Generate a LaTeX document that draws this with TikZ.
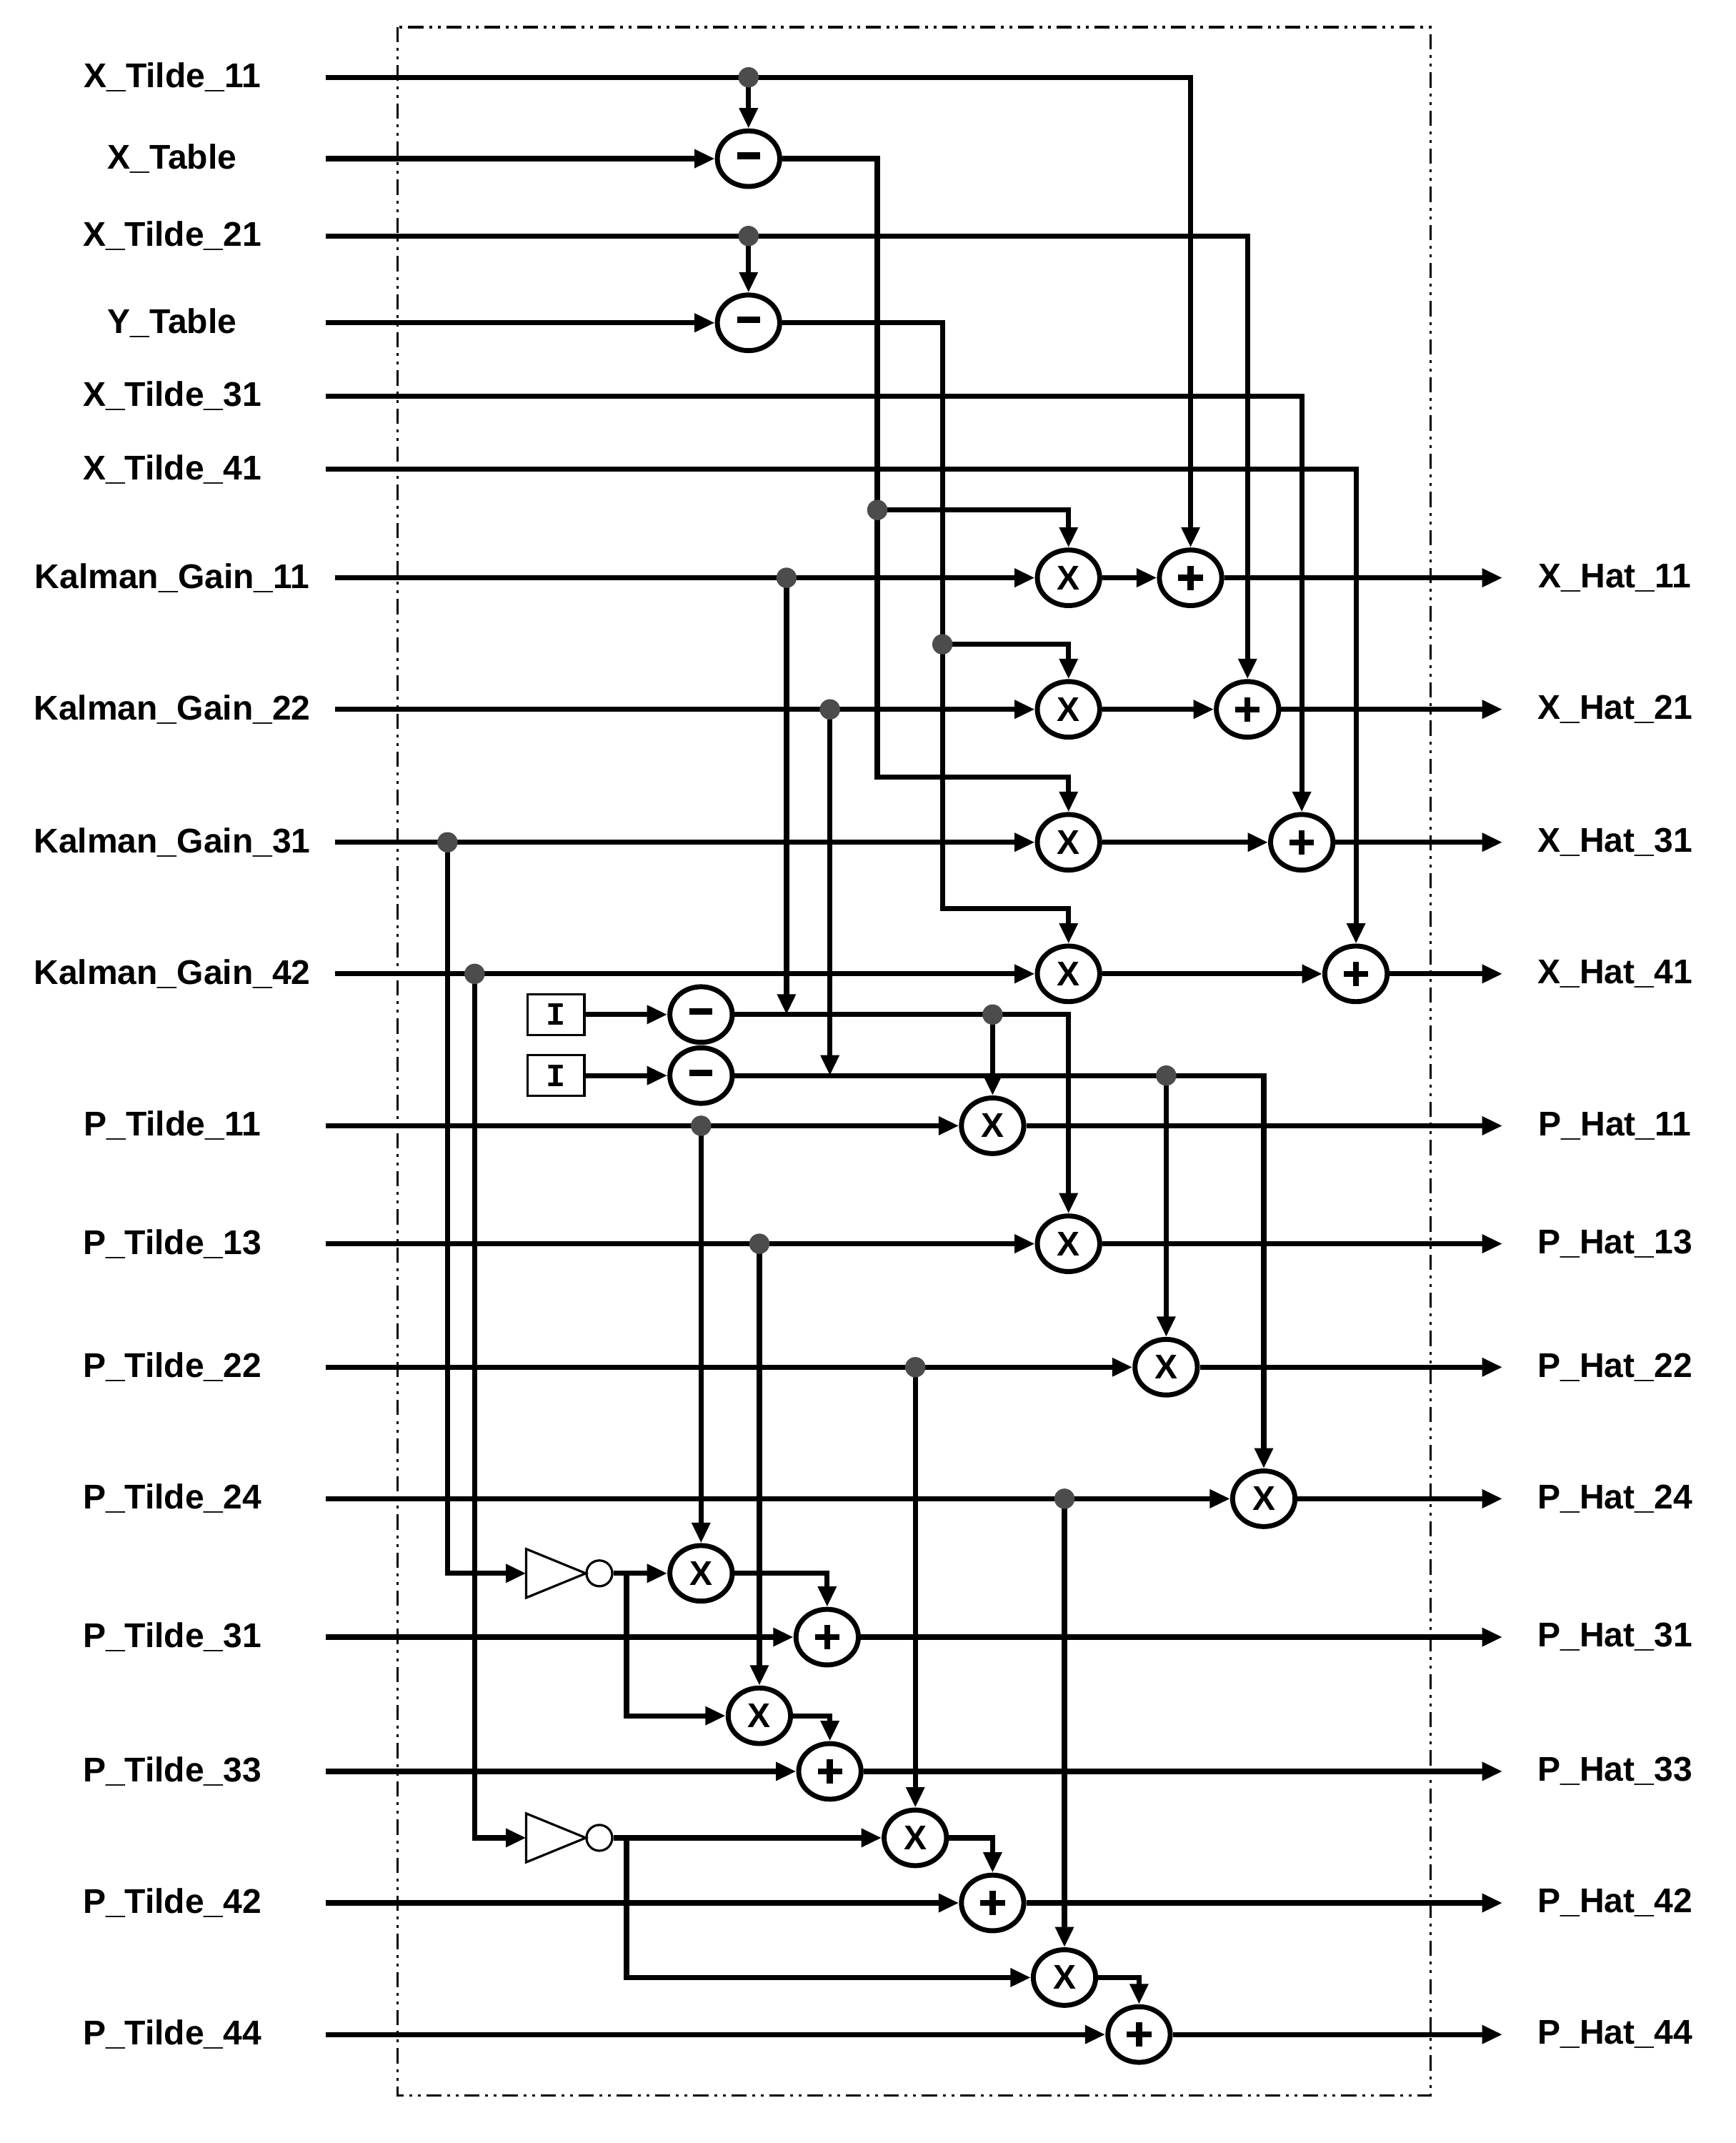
\documentclass[tikz,border=0pt]{standalone}
\usepackage{fontspec}
\setmainfont{Liberation Sans}
\newfontfamily\monof{Liberation Mono}
\usetikzlibrary{arrows.meta,shapes.geometric}
\tikzset{
 wire/.style={line width=5.4pt},
 arr/.style={wire,-{Triangle[length=0.75cm,width=0.65cm]}},
 op/.style={draw,ellipse,line width=5.2pt,minimum width=2.3cm,minimum height=2.05cm,inner sep=0pt,fill=white,font=\fontsize{36}{36}\selectfont\bfseries},
 dotn/.style={circle,fill=black!70,inner sep=0pt,minimum size=0.75cm},
 lab/.style={font=\fontsize{36}{40}\selectfont\bfseries},
 ibox/.style={draw,line width=2.4pt,minimum width=2.1cm,minimum height=1.5cm,font=\fontsize{34}{34}\selectfont\monof\bfseries},
}
\newcommand{\plusg}{\tikz[baseline=-0.5ex,x=1cm,y=1cm]{\fill (-0.45,-0.11) rectangle (0.45,0.11); \fill (-0.11,-0.45) rectangle (0.11,0.45);}}
\newcommand{\minusg}{\tikz[baseline=-0.5ex,x=1cm,y=1cm]{\fill (-0.42,-0.12) rectangle (0.42,0.12);}}
\begin{document}
\begin{tikzpicture}[x=0.05cm,y=-0.05cm]
\useasboundingbox (0,0) rectangle (1280,1580);
\draw[line width=2.4pt,dash pattern=on 16pt off 6pt on 3pt off 6pt on 3pt off 6pt] (293,20) rectangle (1055,1545);
\foreach \n/\y/\t/\xs in {1/57/X\_Tilde\_11/240,2/117/X\_Table/240,3/174/X\_Tilde\_21/240,4/238/Y\_Table/240,5/292/X\_Tilde\_31/240,6/346/X\_Tilde\_41/240,7/426/Kalman\_Gain\_11/247,8/523/Kalman\_Gain\_22/247,9/621/Kalman\_Gain\_31/247,10/718/Kalman\_Gain\_42/247,11/830/P\_Tilde\_11/240,12/917/P\_Tilde\_13/240,13/1008/P\_Tilde\_22/240,14/1105/P\_Tilde\_24/240,15/1207/P\_Tilde\_31/240,16/1306/P\_Tilde\_33/240,17/1403/P\_Tilde\_42/240,18/1500/P\_Tilde\_44/240}{
 \node[lab] (L\n) at (127,\y) {\t};
 \coordinate (s\n) at (\xs,\y);
}
\foreach \n/\y/\t in {7/426/X\_Hat\_11,8/523/X\_Hat\_21,9/621/X\_Hat\_31,10/718/X\_Hat\_41,11/830/P\_Hat\_11,12/917/P\_Hat\_13,13/1008/P\_Hat\_22,14/1105/P\_Hat\_24,15/1207/P\_Hat\_31,16/1306/P\_Hat\_33,17/1403/P\_Hat\_42,18/1500/P\_Hat\_44}{
 \node[lab] (R\n) at (1191,\y) {\t};
 \coordinate (e\n) at (1108,\y);
}
\node[op] (m1) at (552,117) {\minusg};
\node[op] (m2) at (552,238) {\minusg};
\node[op] (m3) at (517,748) {\minusg};
\node[op] (m4) at (517,793) {\minusg};
\foreach \n/\x/\y in {x1/788/426,x2/788/523,x3/788/621,x4/788/718,px1/732/830,px2/788/917,px3/860/1008,px4/932/1105,q1/517/1160,q2/560/1265,q3/675/1355,q4/785/1458}
 \node[op] (\n) at (\x,\y) {X};
\foreach \n/\x/\y in {a1/878/426,a2/920/523,a3/960/621,a4/1000/718,b1/610/1207,b2/612/1306,b3/732/1403,b4/840/1500}
 \node[op] (\n) at (\x,\y) {\plusg};
\node[ibox] (i1) at (410,748) {I};
\node[ibox] (i2) at (410,793) {I};
\foreach \n/\y in {1/1160,2/1355}{
 \draw[line width=2.4pt] (388,\y-18) -- (388,\y+18) -- (432,\y) -- cycle;
 \node[draw,circle,line width=2.4pt,minimum size=0.95cm,inner sep=0pt] (bb\n) at (442,\y) {};
 \coordinate (t\n) at (388,\y);
}
\foreach \n/\x/\y in {d1/552/57,d2/552/174,d5/647/376,d6/695/475,d7/580/426,d8/612/523,d9/330/621,d10/350/718,d11/732/748,d12/860/793,d13/517/830,d14/560/917,d15/675/1008,d16/785/1105}
 \coordinate (\n) at (\x,\y);
\draw[arr] (s1) -| (a1);
\draw[arr] (d1) -- (m1);
\draw[arr] (s2) -- (m1);
\draw[arr] (m1.east) -- (647,117) -- (647,573) -| (x3);
\draw[arr] (d5) -| (x1);
\draw[arr] (s3) -| (a2);
\draw[arr] (d2) -- (m2);
\draw[arr] (s4) -- (m2);
\draw[arr] (m2.east) -- (695,238) -- (695,670) -| (x4);
\draw[arr] (d6) -| (x2);
\draw[arr] (s5) -| (a3);
\draw[arr] (s6) -| (a4);
\draw[arr] (s7) -- (x1); \draw[arr] (x1) -- (a1); \draw[arr] (a1) -- (e7);
\draw[arr] (s8) -- (x2); \draw[arr] (x2) -- (a2); \draw[arr] (a2) -- (e8);
\draw[arr] (s9) -- (x3); \draw[arr] (x3) -- (a3); \draw[arr] (a3) -- (e9);
\draw[arr] (s10) -- (x4); \draw[arr] (x4) -- (a4); \draw[arr] (a4) -- (e10);
\draw[arr] (d7) -- (580,748);
\draw[arr] (d8) -- (612,793);
\draw[arr] (d9) |- (t1);
\draw[arr] (d10) |- (t2);
\draw[arr] (i1) -- (m3);
\draw[arr] (i2) -- (m4);
\draw[arr] (m3.east) -- (788,748) -- (px2);
\draw[arr] (d11) -- (px1);
\draw[arr] (m4.east) -- (932,793) -- (px4);
\draw[arr] (d12) -- (px3);
\draw[arr] (s11) -- (px1); \draw[arr] (px1) -- (e11);
\draw[arr] (s12) -- (px2); \draw[arr] (px2) -- (e12);
\draw[arr] (s13) -- (px3); \draw[arr] (px3) -- (e13);
\draw[arr] (s14) -- (px4); \draw[arr] (px4) -- (e14);
\draw[arr] (d13) -- (q1);
\draw[arr] (d14) -- (q2);
\draw[arr] (d15) -- (q3);
\draw[arr] (d16) -- (q4);
\draw[arr] (bb1) -- (q1);
\draw[arr] (462,1160) |- (q2);
\draw[arr] (bb2) -- (q3);
\draw[arr] (462,1355) |- (q4);
\draw[arr] (q1) -| (b1);
\draw[arr] (q2) -| (b2);
\draw[arr] (q3) -| (b3);
\draw[arr] (q4) -| (b4);
\draw[arr] (s15) -- (b1); \draw[arr] (b1) -- (e15);
\draw[arr] (s16) -- (b2); \draw[arr] (b2) -- (e16);
\draw[arr] (s17) -- (b3); \draw[arr] (b3) -- (e17);
\draw[arr] (s18) -- (b4); \draw[arr] (b4) -- (e18);
\foreach \n in {d1,d2,d5,d6,d7,d8,d9,d10,d11,d12,d13,d14,d15,d16}
 \node[dotn] at (\n) {};
\end{tikzpicture}
\end{document}
